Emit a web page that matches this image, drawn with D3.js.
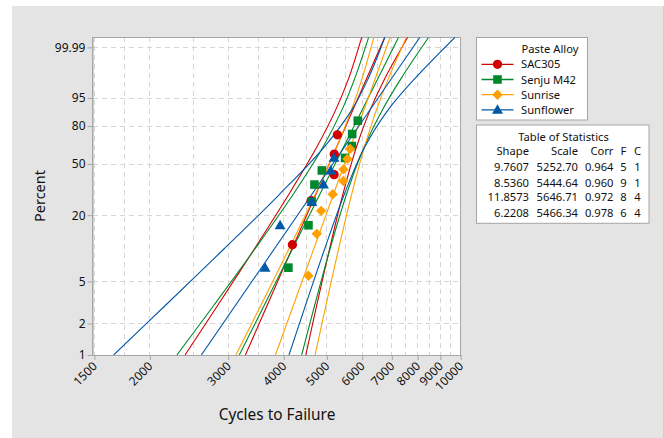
<!DOCTYPE html>
<html>
<head>
<meta charset="utf-8">
<script src="https://cdn.jsdelivr.net/npm/d3@7"></script>
<style>
  html, body { margin: 0; padding: 0; background: #ffffff; }
  svg { display: block; font-family: "Noto Sans", "Open Sans", sans-serif; }
</style>
</head>
<body>
<svg id="chart" width="664" height="438"></svg>
<script>
// ---- Weibull fits per paste alloy ----
const alloys    = ["SAC305", "Senju M42", "Sunrise", "Sunflower"];
const colors    = ["#d10000", "#00892c", "#ff9f00", "#0058a8"];
const markers   = ["circle", "square", "diamond", "triangle"];
const shapes    = [9.7607, 8.5360, 11.8573, 6.2208];
const scalesEta = [5252.70, 5444.64, 5646.71, 5466.34];
const corrs     = [0.964, 0.960, 0.972, 0.978];
const failures  = [5, 9, 8, 6];
const censored  = [1, 1, 4, 4];

// ---- failure times (cycles) and plotting positions (percent) ----
const sac305Cycles    = [4182, 4610, 5190, 5195, 5279];
const sac305Pct       = [10.94, 26.56, 42.19, 57.81, 73.44];
const senjuCycles     = [4096, 4545, 4625, 4688, 4871, 5494, 5688, 5700, 5868];
const senjuPct        = [6.73, 16.35, 25.96, 35.58, 45.19, 54.81, 64.42, 74.04, 83.65];
const sunriseCycles   = [4545, 4745, 4854, 5154, 5446, 5450, 5560, 5638];
const sunrisePct      = [5.65, 13.71, 21.77, 29.84, 37.90, 45.97, 54.03, 62.10];
const sunflowerCycles = [3630, 3924, 4625, 4912, 5101, 5189];
const sunflowerPct    = [6.73, 16.35, 25.96, 35.58, 45.19, 54.81];

// ---- 95% confidence bounds (cycles) at these percent levels ----
const boundPct        = [1, 3, 10, 30, 63.2, 90, 99, 99.999];
const sac305Lower     = [2398, 2844, 3433, 4110, 4739, 5234, 5594, 5988];
const sac305Upper     = [4483, 4746, 5069, 5434, 5822, 6255, 6747, 7601];
const senjuLower      = [2299, 2787, 3443, 4204, 4894, 5407, 5775, 6206];
const senjuUpper      = [4388, 4695, 5082, 5538, 6058, 6665, 7340, 8469];
const sunriseLower    = [3121, 3555, 4106, 4713, 5255, 5680, 5999, 6378];
const sunriseUpper    = [4703, 4978, 5312, 5686, 6068, 6463, 6876, 7551];
const sunflowerLower  = [1657, 2171, 2933, 3917, 4920, 5690, 6193, 6752];
const sunflowerUpper  = [4109, 4479, 4942, 5475, 6075, 6866, 7884, 9708];

// ---- axis ticks ----
const xTicks      = [1500, 2000, 3000, 4000, 5000, 6000, 7000, 8000, 9000, 10000];
const xMinorTicks = [1750, 2500, 3500, 4500, 5500, 6500, 7500, 8500, 9500];
const yTicks      = [1, 2, 5, 20, 50, 80, 95, 99.99];
const yTickLabels = ["1", "2", "5", "20", "50", "80", "95", "99.99"];

const seriesTable = alloys.map((name, i) => ({
  name, color: colors[i], marker: markers[i],
  shape: shapes[i], scale: scalesEta[i], corr: corrs[i], f: failures[i], c: censored[i],
  cycles: [sac305Cycles, senjuCycles, sunriseCycles, sunflowerCycles][i],
  pct:    [sac305Pct, senjuPct, sunrisePct, sunflowerPct][i],
  lower:  [sac305Lower, senjuLower, sunriseLower, sunflowerLower][i],
  upper:  [sac305Upper, senjuUpper, sunriseUpper, sunflowerUpper][i]
}));

// ---- layout ----
const W = 664, H = 438;
const plot = { left: 92.5, right: 460.7, top: 37.3, bottom: 355 };
const ink = "#111111";

const svg = d3.select("#chart");

// panel background
svg.append("rect").attr("x", 12).attr("y", 6).attr("width", 651).attr("height", H - 6)
  .attr("fill", "#e4e4e4");
svg.append("line").attr("x1", 663.5).attr("x2", 663.5).attr("y1", 6).attr("y2", H)
  .attr("stroke", "#cfcfcf");

// scales: log cycles on x, Weibull probability on y
const x = d3.scaleLog().domain([1485, 10000]).range([plot.left, plot.right]);
const weib = p => Math.log(-Math.log(1 - p / 100));
const yLin = d3.scaleLinear().domain([weib(1), weib(99.999)]).range([plot.bottom, plot.top]);
const y = p => yLin(weib(p));

// plot area
svg.append("rect")
  .attr("x", plot.left).attr("y", plot.top)
  .attr("width", plot.right - plot.left).attr("height", plot.bottom - plot.top)
  .attr("fill", "#ffffff");

svg.append("clipPath").attr("id", "plotClip").append("rect")
  .attr("x", plot.left).attr("y", plot.top)
  .attr("width", plot.right - plot.left).attr("height", plot.bottom - plot.top);

// grid
const grid = svg.append("g").attr("stroke", "#d6d6d6").attr("stroke-dasharray", "5,4")
  .attr("shape-rendering", "crispEdges");
grid.selectAll("line.vx").data(xTicks.concat(xMinorTicks)).join("line")
  .attr("x1", d => x(d)).attr("x2", d => x(d))
  .attr("y1", plot.top).attr("y2", plot.bottom);
grid.selectAll("line.hy").data(yTicks.filter(d => d > 1)).join("line")
  .attr("x1", plot.left).attr("x2", plot.right)
  .attr("y1", d => y(d)).attr("y2", d => y(d));

// frame
svg.append("rect")
  .attr("x", plot.left).attr("y", plot.top)
  .attr("width", plot.right - plot.left).attr("height", plot.bottom - plot.top)
  .attr("fill", "none").attr("stroke", "#a6a6a6").attr("shape-rendering", "crispEdges");

// axes
const xAxis = svg.append("g").attr("transform", `translate(0,${plot.bottom})`)
  .call(d3.axisBottom(x).tickValues(xTicks).tickFormat(d3.format("d")).tickSize(5).tickSizeOuter(0));
const yAxisScale = d3.scaleLinear().domain(yLin.domain()).range(yLin.range());
const yAxis = svg.append("g").attr("transform", `translate(${plot.left},0)`)
  .call(d3.axisLeft(yAxisScale).tickValues(yTicks.map(weib))
    .tickFormat((d, i) => yTickLabels[i]).tickSize(5).tickSizeOuter(0));

[xAxis, yAxis].forEach(g => {
  g.select(".domain").attr("stroke", "#a6a6a6");
  g.selectAll(".tick line").attr("stroke", "#a6a6a6");
  g.selectAll(".tick text").attr("fill", ink).style("font-size", "12px")
    .style("font-family", '"Noto Sans", "Open Sans", sans-serif');
});
yAxis.selectAll(".tick text").attr("x", -7);
xAxis.selectAll(".tick text")
  .attr("x", 0).attr("y", 0).attr("dy", null)
  .attr("text-anchor", "end")
  .attr("transform", "translate(3,12) rotate(-45)");

// axis titles
svg.append("text").attr("x", 277).attr("y", 420).attr("text-anchor", "middle")
  .style("font-size", "15.4px").attr("fill", ink).text("Cycles to Failure");
svg.append("text").attr("transform", "translate(45,196) rotate(-90)").attr("text-anchor", "middle")
  .style("font-size", "14.5px").attr("fill", ink).text("Percent");

// fitted lines and confidence bounds
const lines = svg.append("g").attr("clip-path", "url(#plotClip)");
const bound = d3.line().x(d => x(d[0])).y(d => y(d[1])).curve(d3.curveCatmullRom.alpha(0.5));
const fitCycles = (s, p) => s.scale * Math.pow(-Math.log(1 - p / 100), 1 / s.shape);

seriesTable.forEach(s => {
  const g = lines.append("g").attr("fill", "none").attr("stroke", s.color).attr("stroke-width", 1.1);
  g.append("path").attr("d", bound(boundPct.map((p, i) => [s.lower[i], p])));
  g.append("path").attr("d", bound(boundPct.map((p, i) => [s.upper[i], p])));
  const ends = [1, 99.999].map(p => [fitCycles(s, p), p]);
  g.append("path").attr("d", d3.line().x(d => x(d[0])).y(d => y(d[1]))(ends));
});

// markers
const symbolFor = {
  circle:   d3.symbol().type(d3.symbolCircle).size(68),
  square:   d3.symbol().type(d3.symbolSquare).size(74),
  diamond:  d3.symbol().type(d3.symbolSquare).size(54),
  triangle: d3.symbol().type(d3.symbolTriangle).size(52)
};
const markerTransform = (m, cx, cy) =>
  m === "diamond" ? `translate(${cx},${cy}) rotate(45)` :
  m === "triangle" ? `translate(${cx},${cy + 0.8})` : `translate(${cx},${cy})`;

seriesTable.forEach(s => {
  svg.append("g").selectAll("path").data(s.cycles.map((c, i) => [c, s.pct[i]])).join("path")
    .attr("d", symbolFor[s.marker]())
    .attr("transform", d => markerTransform(s.marker, x(d[0]), y(d[1])))
    .attr("fill", s.color);
});

// legend
const lg = svg.append("g");
lg.append("rect").attr("x", 476.5).attr("y", 37.5).attr("width", 111).attr("height", 82.5)
  .attr("fill", "#ffffff").attr("stroke", "#a6a6a6");
lg.append("text").attr("x", 550).attr("y", 53.3).attr("text-anchor", "middle")
  .style("font-size", "11.2px").attr("fill", ink).text("Paste Alloy");
const rowY = [64.3, 79.5, 94.7, 109.9];
seriesTable.forEach((s, i) => {
  const row = lg.append("g");
  row.append("line").attr("x1", 481.5).attr("x2", 513.5).attr("y1", rowY[i]).attr("y2", rowY[i])
    .attr("stroke", s.color).attr("stroke-width", 1.3);
  row.append("path").attr("d", symbolFor[s.marker]())
    .attr("transform", markerTransform(s.marker, 497.5, rowY[i])).attr("fill", s.color);
  row.append("text").attr("x", 521).attr("y", rowY[i] + 4)
    .style("font-size", "11.2px").attr("fill", ink).text(s.name);
});

// table of statistics
const tb = svg.append("g").style("font-size", "11.2px").attr("fill", ink);
tb.append("rect").attr("x", 476.5).attr("y", 125).attr("width", 172.5).attr("height", 98.3)
  .attr("fill", "#ffffff").attr("stroke", "#a6a6a6");
tb.append("text").attr("x", 563.5).attr("y", 140.7).attr("text-anchor", "middle").text("Table of Statistics");
const cols = [
  { x: 529,   anchor: "end",    head: "Shape", fmt: s => s.shape.toFixed(4) },
  { x: 578,   anchor: "end",    head: "Scale", fmt: s => s.scale.toFixed(2) },
  { x: 613.5, anchor: "end",    head: "Corr",  fmt: s => s.corr.toFixed(3) },
  { x: 623.5, anchor: "middle", head: "F",     fmt: s => String(s.f) },
  { x: 637.5, anchor: "middle", head: "C",     fmt: s => String(s.c) }
];
const tableRowY = [170.7, 187, 200.7, 216.7];
cols.forEach(c => {
  tb.append("text").attr("x", c.x).attr("y", 154.7).attr("text-anchor", c.anchor).text(c.head);
  seriesTable.forEach((s, i) => {
    tb.append("text").attr("x", c.x).attr("y", tableRowY[i]).attr("text-anchor", c.anchor).text(c.fmt(s));
  });
});
</script>
</body>
</html>
